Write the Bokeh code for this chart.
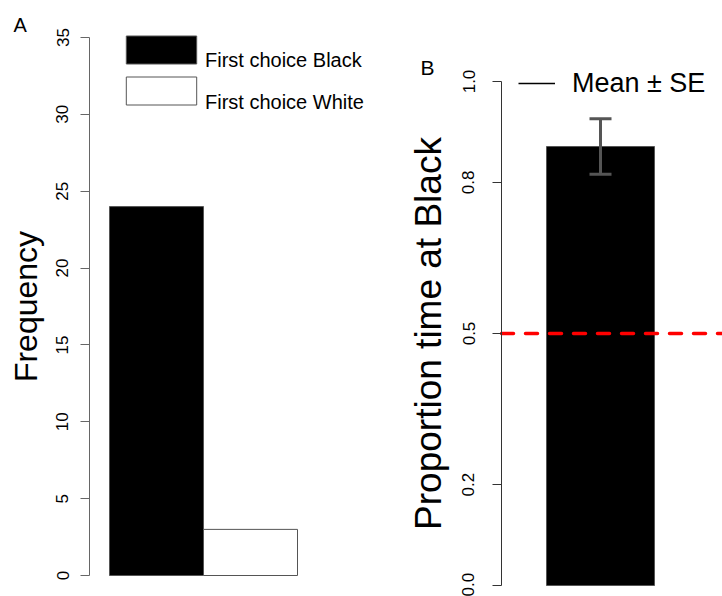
from bokeh.plotting import figure
from bokeh.models import (Range1d, FixedTicker, Legend, LegendItem, Whisker,
                          TeeHead, ColumnDataSource, Label, PrintfTickFormatter)
from bokeh.layouts import row
from bokeh.embed import file_html
from bokeh.resources import INLINE

FONT = "Liberation Sans"

# ---- Panel A data ----
choice_labels = ["First choice Black", "First choice White"]
choice_counts = [24, 3]
choice_fill = ["black", "white"]
freq_ticks = [0, 5, 10, 15, 20, 25, 30, 35]

# ---- Panel B data ----
prop_label = "Mean ± SE"
prop_mean = [0.871]
prop_lower = [0.816]
prop_upper = [0.926]
prop_ticks = [0.0, 0.2, 0.5, 0.8, 1.0]
chance_level = 0.5

# ---- layout (pixels) ----
WA, WB, H = 400, 322, 596
B_OFF = WA  # page x where panel B starts

# panel A frame covers whole figure; map data to pixel targets
a_top_val = freq_ticks[-1]
a_yscale = (575 - 37) / a_top_val
ya_start = -(H - 575) / a_yscale
ya_end = a_top_val + 37 / a_yscale
a_xscale = 94.0
xa_start = 0.5 - 109 / a_xscale
xa_end = xa_start + WA / a_xscale
a_axis_x = xa_start + 89 / a_xscale

# panel B
b_yscale = 504.0
yb_start = -(H - 585) / b_yscale
yb_end = 1 + 81 / b_yscale
b_xscale = 108.0
xb_start = 1 - (600 - B_OFF) / b_xscale
xb_end = xb_start + WB / b_xscale
b_axis_x = xb_start + (501 - B_OFF) / b_xscale


def base_fig(width, xr, yr):
    p = figure(width=width, height=H, output_backend="svg", toolbar_location=None,
               x_range=Range1d(*xr), y_range=Range1d(*yr), title=None,
               min_border=0, min_border_left=0, min_border_right=0,
               min_border_top=0, min_border_bottom=0)
    p.outline_line_color = None
    p.grid.visible = False
    p.xaxis.visible = False
    return p


def style_yaxis(ax, label, label_size, line_color):
    ax.axis_label = label
    ax.axis_label_text_font = FONT
    ax.axis_label_text_font_size = label_size
    ax.axis_label_text_font_style = "normal"
    ax.axis_label_text_color = "black"
    ax.major_label_text_font = FONT
    ax.major_label_text_font_size = "17px"
    ax.major_label_text_color = "black"
    ax.major_label_orientation = "vertical"
    ax.axis_line_color = line_color
    ax.major_tick_line_color = line_color
    ax.major_tick_out = 9
    ax.major_tick_in = 0
    ax.minor_tick_out = 0
    ax.minor_tick_in = 0


def box_legend(renderer, idx, label, vx, vy, standoff):
    # the label sits a little below the centre of its key box, as in the original
    return Legend(items=[LegendItem(label="\n" + label, renderers=[renderer], index=idx)],
                  location=(vx, vy), glyph_width=88, glyph_height=35,
                  label_height=20, spacing=0, padding=0, margin=0,
                  label_standoff=standoff, label_text_font=FONT,
                  label_text_font_size="20px", label_text_color="black",
                  label_text_line_height=0.8,
                  border_line_color=None, background_fill_alpha=0)


# ================= Panel A =================
pa = base_fig(WA, (xa_start, xa_end), (ya_start, ya_end))

xs = [i + 1 for i in range(len(choice_counts))]
src_a = ColumnDataSource(dict(x=xs, top=choice_counts, fill=choice_fill))
bars = pa.vbar(x="x", top="top", bottom=0, width=1, fill_color="fill",
               line_color="#555555", line_width=1, source=src_a)

ya = pa.yaxis[0]
ya.fixed_location = a_axis_x
ya.bounds = (freq_ticks[0], freq_ticks[-1])
ya.ticker = FixedTicker(ticks=freq_ticks)
style_yaxis(ya, "Frequency", "32px", "#666666")
ya.major_label_standoff = 12
ya.axis_label_standoff = 10

pa.add_layout(box_legend(bars, 0, choice_labels[0], 117, H - 72, 0), "center")
pa.add_layout(box_legend(bars, 1, choice_labels[1], 117, H - 113.5, -2), "center")

pa.add_layout(Label(x=13, y=H - 35, x_units="screen", y_units="screen", text="A",
                    text_font=FONT, text_font_size="20px", text_color="black"))

# ================= Panel B =================
pb = base_fig(WB, (xb_start, xb_end), (yb_start, yb_end))

src_b = ColumnDataSource(dict(x=[1], top=prop_mean, lower=prop_lower,
                              upper=prop_upper))
pb.vbar(x="x", top="top", bottom=0, width=1, fill_color="black",
        line_color="#555555", line_width=1, source=src_b)

pb.segment(x0=[b_axis_x], y0=[chance_level], x1=[xb_end], y1=[chance_level],
           line_color="red", line_width=3.5, line_dash="12 12", line_cap="round")

err_col = "#555555"
pb.add_layout(Whisker(base="x", lower="lower", upper="upper", source=src_b,
                      dimension="height", line_color=err_col, line_width=3,
                      level="annotation",
                      upper_head=TeeHead(size=22, line_color=err_col, line_width=3),
                      lower_head=TeeHead(size=22, line_color=err_col, line_width=3)))

yb = pb.yaxis[0]
yb.fixed_location = b_axis_x
yb.bounds = (prop_ticks[0], prop_ticks[-1])
yb.ticker = FixedTicker(ticks=prop_ticks)
yb.formatter = PrintfTickFormatter(format="%.1f")
style_yaxis(yb, "Proportion time at Black", "37px", "#333333")
yb.major_label_standoff = 18
yb.axis_label_standoff = 11

# single-point line marking the mean (draws nothing itself; gives the legend key)
mean_line = pb.line(x=[1], y=prop_mean, line_color="black", line_width=1.5)
leg_b = Legend(items=[LegendItem(label=prop_label, renderers=[mean_line])],
               location=(518 - B_OFF, H - 105), glyph_width=37, glyph_height=44,
               label_height=20, padding=0, margin=0, label_standoff=17,
               label_text_font=FONT, label_text_font_size="27px",
               label_text_color="black", border_line_color=None,
               background_fill_alpha=0)
pb.add_layout(leg_b, "center")

pb.add_layout(Label(x=420 - B_OFF, y=H - 78, x_units="screen", y_units="screen",
                    text="B", text_font=FONT, text_font_size="21px",
                    text_color="black"))

layout = row(pa, pb, spacing=0)
open("out.html", "w").write(file_html(layout, INLINE))
